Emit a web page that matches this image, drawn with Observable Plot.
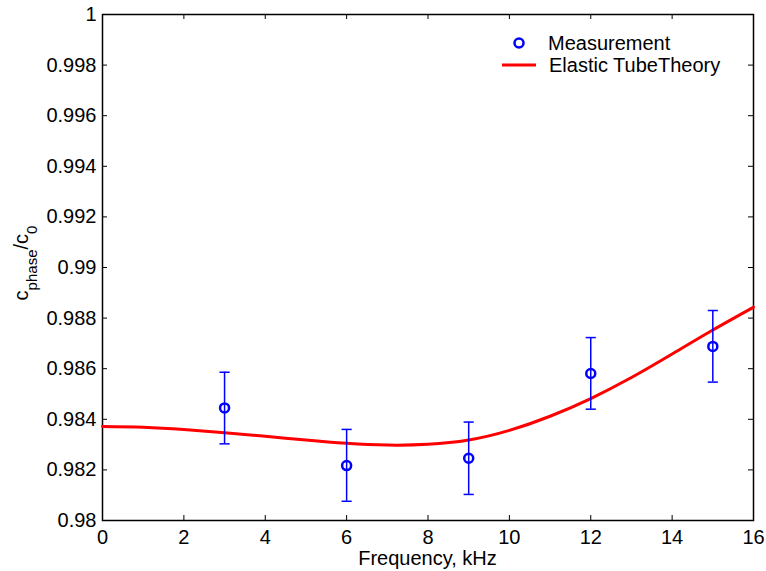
<!DOCTYPE html>
<html>
<head>
<meta charset="utf-8">
<script src="https://cdn.jsdelivr.net/npm/d3@7"></script>
<script src="https://cdn.jsdelivr.net/npm/@observablehq/plot@0.6"></script>
<style>
  html, body { margin: 0; padding: 0; background: #fff; }
  #chart { width: 766px; height: 571px; }
  svg { font-family: "Liberation Sans", Arial, Helvetica, sans-serif; }
</style>
</head>
<body>
<div id="chart"></div>
<script>
// Measurements
const freq = [3, 6, 9, 12, 15];
const meas = [0.98445, 0.98217, 0.98246, 0.98581, 0.98688];
const errLow = [0.98303, 0.98076, 0.98103, 0.98440, 0.98547];
const errHigh = [0.98586, 0.98360, 0.98389, 0.98723, 0.98830];

// Elastic tube theory curve
const theoryFreq = [0, 1, 2, 3, 4, 5, 6, 7, 8, 9, 10, 11, 12, 13, 14, 15, 16];
const theoryVal = [0.98372, 0.98369, 0.98360, 0.98347, 0.98333, 0.98318, 0.98305, 0.98298, 0.98301, 0.98318, 0.98356, 0.98412, 0.98482, 0.98565, 0.98658, 0.98753, 0.98843];

// Ticks
const xTicks = [0, 2, 4, 6, 8, 10, 12, 14, 16];
const yTicks = [0.98, 0.982, 0.984, 0.986, 0.988, 0.99, 0.992, 0.994, 0.996, 0.998, 1];

const measData = freq.map((f, i) => ({f, v: meas[i], lo: errLow[i], hi: errHigh[i]}));
const theoryData = theoryFreq.map((f, i) => ({f, v: theoryVal[i]}));

const W = 766, H = 571;
const mL = 102, mR = 13, mT = 14, mB = 51;
const innerH = H - mT - mB;
const innerW = W - mL - mR;
const capHalf = 0.125;
const blue = "#0000ff", red = "#ff0000";
const FS = 20;
const font = "'Liberation Sans', Arial, Helvetica, sans-serif";

const svg = Plot.plot({
  width: W,
  height: H,
  marginLeft: mL,
  marginRight: mR,
  marginTop: mT,
  marginBottom: mB,
  style: {fontSize: FS + "px", fontFamily: font, background: "#fff", color: "#000"},
  x: {domain: [0, 16]},
  y: {domain: [0.98, 1]},
  marks: [
    // inward ticks: bottom, top, left, right
    Plot.ruleX(xTicks, {x: d => d, insetTop: innerH - 5, stroke: "#000", strokeWidth: 1}),
    Plot.ruleX(xTicks, {x: d => d, insetBottom: innerH - 5, stroke: "#000", strokeWidth: 1}),
    Plot.ruleY(yTicks, {y: d => d, insetRight: innerW - 5, stroke: "#000", strokeWidth: 1}),
    Plot.ruleY(yTicks, {y: d => d, insetLeft: innerW - 5, stroke: "#000", strokeWidth: 1}),
    Plot.axisX(xTicks, {tickSize: 0, tickPadding: 9, label: null, fontSize: FS, tickFormat: d => String(d)}),
    Plot.axisY(yTicks, {tickSize: 0, tickPadding: 6, label: null, fontSize: FS, tickFormat: d => String(+d.toFixed(3))}),
    Plot.frame({stroke: "#000", strokeWidth: 1.5}),
    // theory curve
    Plot.line(theoryData, {x: "f", y: "v", stroke: red, strokeWidth: 3, curve: "natural"}),
    // error bars
    Plot.ruleX(measData, {x: "f", y1: "lo", y2: "hi", stroke: blue, strokeWidth: 1.5}),
    Plot.link(measData, {x1: d => d.f - capHalf, x2: d => d.f + capHalf, y1: "lo", y2: "lo", stroke: blue, strokeWidth: 1.5}),
    Plot.link(measData, {x1: d => d.f - capHalf, x2: d => d.f + capHalf, y1: "hi", y2: "hi", stroke: blue, strokeWidth: 1.5}),
    // measurement circles
    Plot.dot(measData, {x: "f", y: "v", r: 4.5, stroke: blue, strokeWidth: 2.5, fill: "none"})
  ]
});

const s = d3.select(svg);

// x-axis label
s.append("text")
  .attr("x", mL + innerW / 2).attr("y", 565)
  .attr("text-anchor", "middle")
  .attr("font-size", FS).attr("font-family", font).attr("fill", "#000")
  .text("Frequency, kHz");

// y-axis label with subscripts
const yl = s.append("text")
  .attr("transform", `translate(28,${mT + innerH / 2 - 4}) rotate(-90)`)
  .attr("text-anchor", "middle")
  .attr("font-size", FS).attr("font-family", font).attr("fill", "#000");
yl.append("tspan").text("c");
yl.append("tspan").attr("baseline-shift", "sub").attr("font-size", 15).text("phase");
yl.append("tspan").text("/c");
yl.append("tspan").attr("baseline-shift", "sub").attr("font-size", 15).text("0");

// legend
const lg = s.append("g").attr("text-anchor", "start");
lg.append("circle").attr("cx", 519).attr("cy", 43).attr("r", 4.5)
  .attr("fill", "none").attr("stroke", blue).attr("stroke-width", 2.5);
lg.append("text").attr("x", 548).attr("y", 43).attr("dy", "0.35em").attr("text-anchor", "start")
  .attr("font-size", FS).attr("font-family", font).attr("fill", "#000").text("Measurement");
lg.append("line").attr("x1", 502).attr("x2", 536).attr("y1", 65).attr("y2", 65)
  .attr("stroke", red).attr("stroke-width", 3);
lg.append("text").attr("x", 549).attr("y", 65).attr("dy", "0.35em").attr("text-anchor", "start")
  .attr("font-size", FS).attr("font-family", font).attr("fill", "#000").text("Elastic TubeTheory");

document.getElementById("chart").appendChild(svg);
</script>
</body>
</html>
